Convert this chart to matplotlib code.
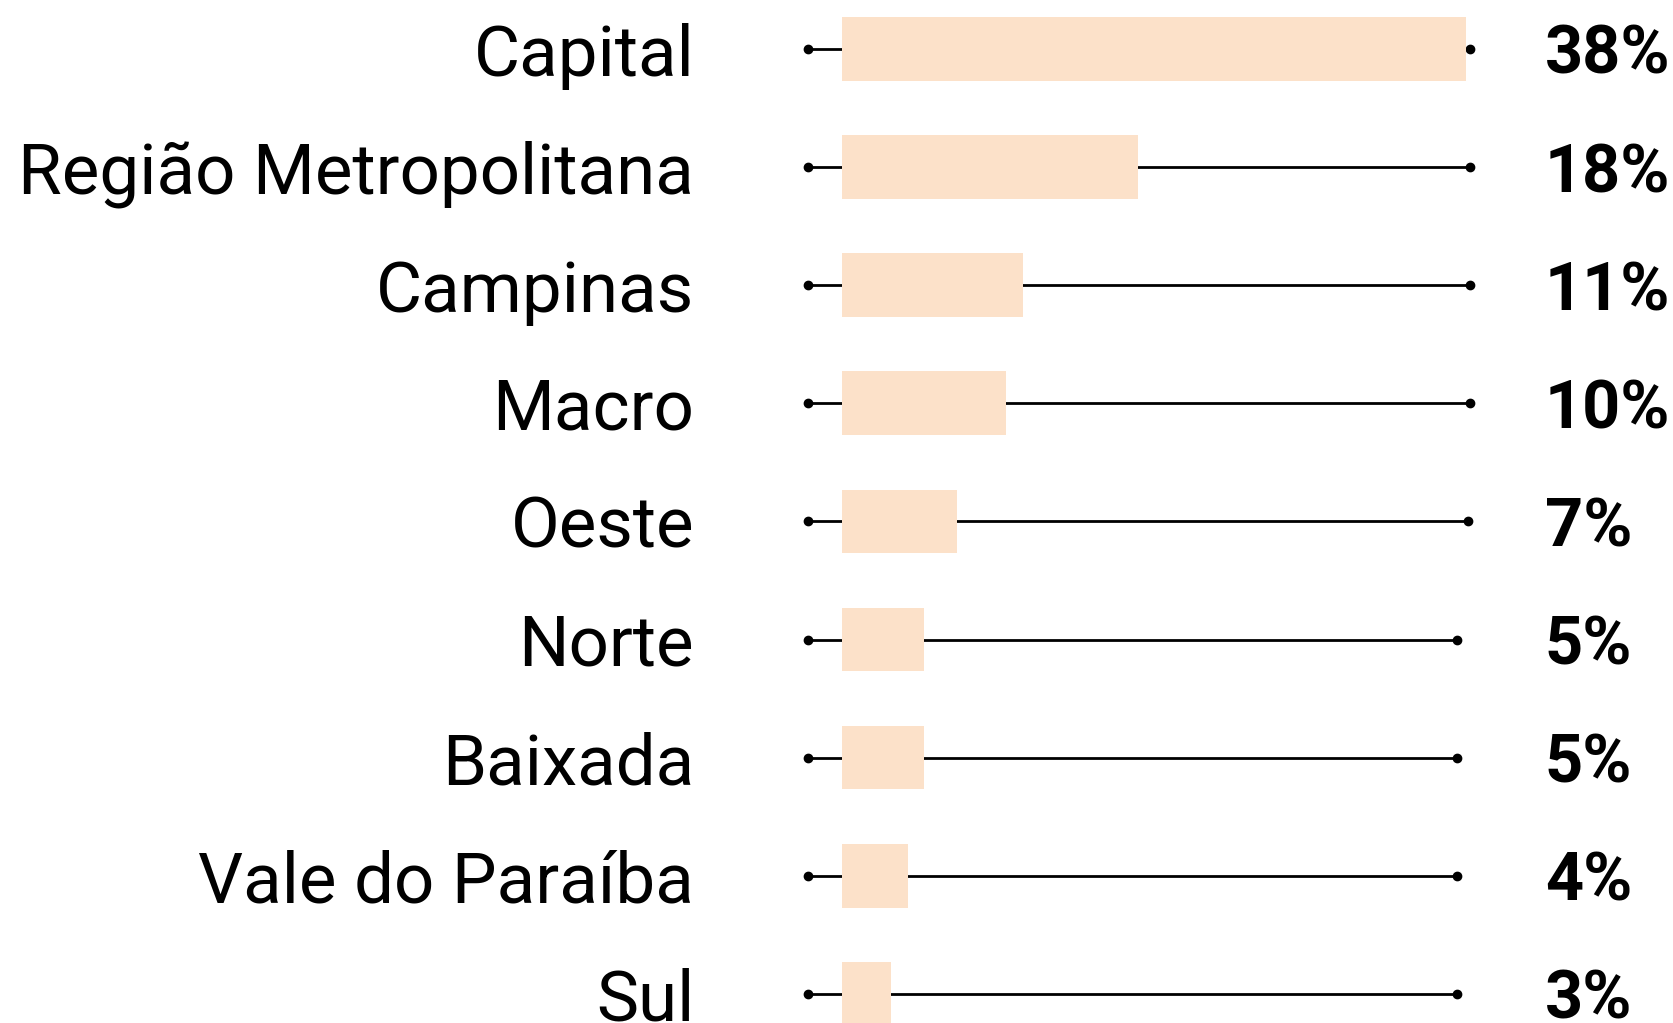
import matplotlib
matplotlib.use('Agg')
import matplotlib.pyplot as plt
from matplotlib import font_manager
import numpy as np

# data
regions = ['Capital', 'Região Metropolitana', 'Campinas', 'Macro', 'Oeste',
           'Norte', 'Baixada', 'Vale do Paraíba', 'Sul']
share = [38, 18, 11, 10, 7, 5, 5, 4, 3]
track_end = [38.25, 38.25, 38.25, 38.25, 38.1, 37.45, 37.45, 37.45, 37.45]
track_start = -2.07

names = {f.name for f in font_manager.fontManager.ttflist}
narrow = 'Liberation Sans Narrow' if 'Liberation Sans Narrow' in names else 'Roboto'

bar_color = '#fce1c9'
px_per_unit = 16.42   # pixels per percentage point
x0_px = 842           # where the bars start
row_px = 118.1
first_row_px = 49

fig = plt.figure(figsize=(16.74, 10.23), dpi=100)
ax = fig.add_axes([0, 0, 1, 1])
ax.set_xlim(-x0_px / px_per_unit, (1674 - x0_px) / px_per_unit)
ax.set_ylim((1023 - first_row_px) / row_px, -first_row_px / row_px)
ax.axis('off')

y = np.arange(len(regions))
for i in range(len(regions)):
    ax.plot([track_start, track_end[i]], [y[i], y[i]], color='black', lw=2.0,
            marker='o', markersize=6, zorder=1)
ax.barh(y, share, height=0.54, color=bar_color, zorder=2)

for i in range(len(regions)):
    ax.text(-9.0, y[i], regions[i], ha='right', va='center_baseline',
            fontsize=51, family=narrow, color='black')
    ax.text(42.8, y[i], f'{share[i]}%', ha='left', va='center_baseline',
            fontsize=48, family=narrow, fontweight='bold', color='black')

plt.savefig('out.png', dpi=100)
plt.close()
